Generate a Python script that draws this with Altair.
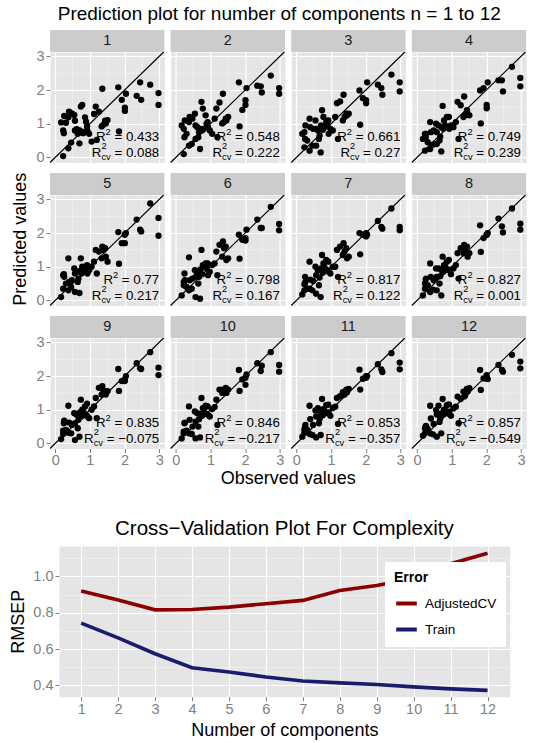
import altair as alt
import pandas as pd

FONT = "Liberation Sans"

# ---------------- data: prediction plots ----------------
PANELS = list(range(1, 13))
OBSERVED = [0.17, 0.23, 0.23, 0.25, 0.26, 0.31, 0.38, 0.38, 0.40, 0.46,
            0.48, 0.55, 0.57, 0.57, 0.62, 0.65, 0.67, 0.70, 0.71, 0.74,
            0.76, 0.78, 0.81, 0.86, 0.89, 0.92, 0.93, 0.98, 1.05, 1.12,
            1.17, 1.20, 1.26, 1.34, 1.36, 1.39, 1.44, 1.46, 1.51, 1.82,
            1.84, 1.92, 2.01, 2.01, 2.04, 2.35, 2.45, 2.48, 2.74, 2.98, 2.98]

PRED_1 = [1.04, 0.04, 0.80, 0.72, 1.23, 1.03, 1.19, 0.27, 1.36, 0.44,
          1.31, 1.26, 1.09, 0.80, 0.84, 0.70, 0.77, 0.42, 0.80, 1.51,
          0.74, 1.56, 0.72, 1.19, 1.06, 0.92, 0.80, 0.70, 0.47, 1.29,
          1.51, 0.52, 1.36, 0.92, 2.04, 0.97, 1.09, 1.01, 1.11, 2.08,
          0.77, 1.71, 1.48, 1.38, 1.89, 1.83, 2.23, 1.71, 2.16, 1.91, 1.56]
PRED_2 = [0.95, 0.10, 0.85, 0.60, 1.10, 0.70, 1.05, 0.35, 1.20, 0.40,
          1.15, 1.30, 0.95, 0.55, 0.90, 0.60, 0.75, 0.25, 0.85, 1.65,
          0.80, 1.45, 0.85, 1.25, 1.00, 1.05, 0.90, 0.80, 0.70, 1.15,
          1.45, 0.60, 1.63, 1.01, 1.89, 1.05, 1.15, 1.10, 1.20, 2.23,
          0.92, 1.41, 1.56, 1.70, 2.06, 2.13, 2.11, 1.93, 2.43, 2.06, 1.89]
PRED_3 = [0.70, 0.30, 0.75, 0.55, 0.95, 0.50, 1.15, 0.20, 0.90, 0.35,
          0.85, 1.10, 0.85, 0.35, 0.80, 0.55, 0.65, 0.15, 0.95, 1.40,
          0.82, 1.20, 0.90, 1.05, 0.95, 1.10, 0.70, 0.85, 0.80, 1.20,
          1.61, 0.55, 1.66, 1.10, 1.86, 1.20, 1.30, 1.25, 1.30, 1.99,
          0.97, 1.76, 1.61, 1.70, 2.23, 2.16, 2.06, 1.86, 2.46, 2.23, 1.96]
PRED_4 = [0.55, 0.20, 0.70, 0.60, 0.70, 0.45, 1.05, 0.25, 0.75, 0.38,
          0.80, 1.00, 0.75, 0.40, 0.95, 0.50, 0.62, 0.18, 0.90, 1.53,
          0.85, 1.10, 0.95, 1.20, 0.90, 1.20, 0.85, 0.95, 0.90, 1.05,
          1.65, 0.55, 1.55, 1.20, 1.81, 1.25, 1.40, 1.31, 1.25, 1.99,
          1.01, 2.06, 1.56, 1.46, 2.23, 2.29, 2.29, 1.96, 2.69, 2.36, 2.11]
PRED_5 = [0.10, 0.35, 0.75, 0.78, 0.70, 0.50, 1.25, 0.30, 0.55, 0.40,
          0.60, 0.95, 0.80, 0.25, 0.85, 0.55, 0.65, 0.22, 0.88, 1.25,
          0.80, 1.00, 0.95, 1.00, 0.85, 1.05, 0.80, 0.90, 1.00, 1.15,
          1.50, 0.80, 1.45, 1.25, 1.60, 1.50, 1.55, 1.30, 1.15, 2.03,
          1.09, 1.70, 1.95, 1.70, 2.00, 2.40, 2.10, 2.05, 2.88, 2.45, 1.92]
PRED_6 = [0.15, 0.45, 0.55, 0.80, 0.60, 0.40, 1.28, 0.30, 0.60, 0.35,
          0.65, 0.90, 0.70, 0.10, 0.80, 0.50, 0.70, 0.05, 0.92, 1.50,
          0.78, 1.05, 1.00, 1.10, 0.95, 1.10, 0.75, 0.85, 1.05, 1.10,
          1.45, 0.75, 1.65, 1.30, 1.75, 1.55, 1.60, 1.20, 1.25, 1.95,
          1.24, 1.80, 1.85, 1.78, 2.10, 2.40, 2.15, 2.15, 2.78, 2.27, 2.08]
PRED_7 = [0.18, 0.30, 0.48, 0.70, 0.55, 0.35, 1.15, 0.35, 0.62, 0.30,
          0.58, 1.00, 0.75, 0.20, 0.90, 0.45, 0.68, 0.10, 0.95, 1.35,
          0.82, 1.10, 0.98, 1.20, 0.90, 1.15, 0.85, 0.80, 1.00, 1.00,
          1.50, 0.70, 1.60, 1.35, 1.70, 1.45, 1.55, 1.25, 1.30, 2.00,
          1.37, 1.95, 2.00, 1.90, 1.95, 2.36, 2.18, 2.13, 2.73, 2.18, 2.08]
PRED_8 = [0.15, 0.35, 0.50, 0.62, 0.65, 0.45, 1.10, 0.25, 0.70, 0.32,
          0.60, 0.95, 0.70, 0.30, 0.95, 0.50, 0.72, 0.15, 0.90, 1.30,
          0.85, 1.05, 1.00, 1.15, 0.92, 1.20, 0.90, 0.78, 0.95, 1.05,
          1.40, 0.65, 1.55, 1.40, 1.65, 1.50, 1.60, 1.30, 1.40, 2.23,
          1.44, 1.85, 1.95, 1.95, 2.00, 2.43, 2.20, 2.02, 2.73, 2.28, 2.10]
PRED_9 = [0.13, 0.28, 0.38, 0.60, 0.68, 0.40, 1.12, 0.32, 0.62, 0.30,
          0.55, 0.90, 0.60, 0.10, 0.85, 0.45, 0.70, 0.20, 0.92, 1.30,
          0.80, 1.00, 0.95, 1.10, 0.85, 1.18, 0.80, 0.75, 1.00, 1.10,
          1.35, 0.75, 1.65, 1.45, 1.70, 1.55, 1.55, 1.45, 1.55, 2.21,
          1.56, 1.85, 1.90, 1.85, 2.00, 2.38, 2.23, 2.21, 2.71, 2.25, 2.03]
PRED_10 = [0.15, 0.30, 0.35, 0.60, 0.62, 0.38, 1.10, 0.30, 0.70, 0.28,
           0.50, 0.95, 0.65, 0.15, 0.90, 0.50, 0.72, 0.18, 0.88, 1.35,
           0.82, 1.05, 0.98, 1.12, 0.88, 1.10, 0.85, 0.80, 1.02, 1.08,
           1.30, 0.55, 1.60, 1.50, 1.60, 1.50, 1.65, 1.50, 1.60, 2.18,
           1.56, 1.90, 1.74, 1.95, 2.05, 2.38, 2.15, 2.31, 2.71, 2.33, 2.13]
PRED_11 = [0.20, 0.32, 0.42, 0.50, 0.55, 0.40, 1.12, 0.28, 0.72, 0.25,
           0.55, 0.98, 0.80, 0.18, 1.05, 0.60, 0.73, 0.25, 0.90, 1.32,
           0.84, 1.02, 0.97, 1.14, 0.90, 1.15, 0.92, 0.82, 1.05, 1.09,
           1.35, 0.58, 1.40, 1.52, 1.45, 1.45, 1.60, 1.52, 1.62, 2.19,
           1.60, 1.92, 2.00, 1.95, 2.00, 2.35, 2.20, 2.12, 2.68, 2.40, 2.20]
PRED_12 = [0.23, 0.30, 0.45, 0.50, 0.52, 0.43, 1.12, 0.30, 0.74, 0.27,
           0.58, 0.99, 0.86, 0.20, 1.12, 0.64, 0.74, 0.30, 0.90, 1.32,
           0.86, 1.00, 0.99, 1.14, 0.89, 1.16, 0.94, 0.82, 1.04, 1.09,
           1.39, 0.60, 1.32, 1.54, 1.39, 1.42, 1.62, 1.54, 1.64, 2.18,
           1.59, 1.93, 2.03, 1.93, 1.91, 2.33, 2.18, 2.13, 2.63, 2.43, 2.23]
PREDICTED = [PRED_1, PRED_2, PRED_3, PRED_4, PRED_5, PRED_6,
             PRED_7, PRED_8, PRED_9, PRED_10, PRED_11, PRED_12]

R2 = ["0.433", "0.548", "0.661", "0.749", "0.77", "0.798",
      "0.817", "0.827", "0.835", "0.846", "0.853", "0.857"]
R2_CV = ["0.088", "0.222", "0.27", "0.239", "0.217", "0.167",
         "0.122", "0.001", "\u22120.075", "\u22120.217", "\u22120.357", "\u22120.549"]

# ---------------- data: cross-validation ----------------
COMPONENTS = list(range(1, 13))
RMSEP_ADJCV = [0.92, 0.87, 0.816, 0.818, 0.831, 0.85, 0.868, 0.923, 0.95, 0.99, 1.07, 1.128]
RMSEP_TRAIN = [0.743, 0.661, 0.574, 0.497, 0.473, 0.446, 0.424, 0.413, 0.404, 0.391, 0.38, 0.372]
SERIES = ["AdjustedCV", "Train"]
SERIES_COLORS = ["#8B0000", "#1B1B6E"]

# ---------------- layout constants ----------------
W, H = 114.4, 110.5
X_DOMAIN = [-0.15, 3.15]
Y_DOMAIN = [-0.15, 3.13]
PXU = W / (X_DOMAIN[1] - X_DOMAIN[0])
FS, FS_S = 13.3, 9.3
TEXT_RIGHT = 3.0
TEXT_Y = [0.62, 0.14]
STRIP = 22
GREY_TXT = "#7F7F7F"
MAJOR = [0, 1, 2, 3]
MINOR = [0.5, 1.5, 2.5]

EM = {c: 0.556 for c in "0123456789"}
EM.update({".": 0.278, "=": 0.584, "\u2212": 0.584, " ": 0.278})


def tw(s, fs):
    return sum(EM[c] for c in s) * fs


xs = alt.Scale(domain=X_DOMAIN, nice=False, zero=False)
ys = alt.Scale(domain=Y_DOMAIN, nice=False, zero=False)


def make_panel(idx):
    p = PANELS[idx]
    prow, pcol = idx // 4, idx % 4
    preds = PREDICTED[idx]
    rows = [{"kind": "pt", "obs": o, "pred": v} for o, v in zip(OBSERVED, preds)]
    rows += [{"kind": "mg", "g": g} for g in MINOR]
    rest1 = "= " + R2[idx]
    rest2 = "= " + R2_CV[idx]
    rows.append({
        "kind": "lab", "label": str(p), "rest1": rest1, "rest2": rest2,
        "xr": TEXT_RIGHT,
        "xR1": TEXT_RIGHT - (tw(rest1, FS) + 0.278 * FS + 0.556 * FS_S) / PXU,
        "xR2": TEXT_RIGHT - (tw(rest2, FS) + 0.278 * FS + 1.0 * FS_S) / PXU,
        "y1": TEXT_Y[0], "y2": TEXT_Y[1],
        "lo": X_DOMAIN[0], "hi": Y_DOMAIN[1],
    })
    d = pd.DataFrame(rows)

    if prow == 2:
        if pcol == 1:
            x_axis = alt.Axis(values=MAJOR, labelPadding=1, title="Observed values",
                              titleX=W + 2.8, titlePadding=2)
        else:
            x_axis = alt.Axis(values=MAJOR, labelPadding=1, title=None)
    else:
        x_axis = alt.Axis(values=MAJOR, labels=False, ticks=False, title=None)
    if pcol == 0:
        y_axis = alt.Axis(values=MAJOR, title="Predicted values", titleY=H / 2 - 11.5,
                          titlePadding=6,
                          titleColor="black" if prow == 1 else "transparent")
    else:
        y_axis = alt.Axis(values=MAJOR, labels=False, ticks=False, title=None)

    base = alt.Chart(d)
    is_pt = alt.datum.kind == "pt"
    is_lab = alt.datum.kind == "lab"
    is_mg = alt.datum.kind == "mg"

    def X(f):
        return alt.X(f, scale=xs, axis=x_axis)

    def Y(f):
        return alt.Y(f, scale=ys, axis=y_axis)

    vminor = base.mark_rule(color="#F2F2F2", strokeWidth=0.7).encode(
        x=X("g:Q")).transform_filter(is_mg)
    hminor = base.mark_rule(color="#F2F2F2", strokeWidth=0.7).encode(
        y=Y("g:Q")).transform_filter(is_mg)

    points = base.mark_circle(size=40, color="black", opacity=1).encode(
        x=X("obs:Q"), y=Y("pred:Q"),
    ).transform_filter(is_pt)

    diag = base.mark_rule(color="black", strokeWidth=1.1).encode(
        x=X("lo:Q"), x2="hi:Q", y=Y("lo:Q"), y2="hi:Q",
    ).transform_filter(is_lab)

    strip_bg = base.mark_rect(color="#CCCCCC").encode(
        x=alt.value(0), x2=alt.value(W), y=alt.value(-STRIP), y2=alt.value(0),
    ).transform_filter(is_lab)

    strip_txt = base.mark_text(fontSize=14.5, color="#1A1A1A", baseline="middle", align="center").encode(
        x=alt.value(W / 2), y=alt.value(-STRIP / 2), text="label:N",
    ).transform_filter(is_lab)

    def txt(fx, fy, text, align, fs, dy=0):
        return base.mark_text(fontSize=fs, color="black", baseline="middle", align=align, dy=dy).encode(
            x=X(f"{fx}:Q"), y=Y(f"{fy}:Q"), text=text,
        ).transform_filter(is_lab)

    layers = [vminor, hminor, points, diag, strip_bg, strip_txt,
              txt("xr", "y1", "rest1:N", "right", FS),
              txt("xR1", "y1", alt.value("R"), "right", FS),
              txt("xR1", "y1", alt.value("2"), "left", FS_S, dy=-5),
              txt("xr", "y2", "rest2:N", "right", FS),
              txt("xR2", "y2", alt.value("R"), "right", FS),
              txt("xR2", "y2", alt.value("2"), "left", FS_S, dy=-6.5),
              txt("xR2", "y2", alt.value("cv"), "left", FS_S, dy=4)]
    return alt.layer(*layers).properties(width=W, height=H)


grid_rows = [alt.hconcat(*[make_panel(r * 4 + c) for c in range(4)], spacing=5.6, bounds="flush")
             for r in range(3)]
top = alt.vconcat(*grid_rows, spacing=6).properties(title=alt.Title(
    "Prediction plot for number of components n = 1 to 12",
    fontSize=19, fontWeight="normal", color="black", anchor="middle", dx=10, offset=5))

# ---------------- bottom chart ----------------
cv_rows = []
for s, vals in zip(SERIES, [RMSEP_ADJCV, RMSEP_TRAIN]):
    for c, v in zip(COMPONENTS, vals):
        cv_rows.append({"component": c, "Error": s, "rmsep": v})
cv_df = pd.DataFrame(cv_rows)

BH = 150.7
major_y = "round(datum.value * 10) % 2 === 0"
bottom = alt.Chart(cv_df).mark_line(strokeWidth=3.6).encode(
    x=alt.X("component:Q", scale=alt.Scale(domain=[0.4, 12.6], nice=False, zero=False),
            axis=alt.Axis(values=COMPONENTS, titlePadding=5),
            title="Number of components"),
    y=alt.Y("rmsep:Q", scale=alt.Scale(domain=[0.337, 1.168], nice=False, zero=False),
            axis=alt.Axis(values=[0.4, 0.5, 0.6, 0.7, 0.8, 0.9, 1.0, 1.1],
                          labelExpr=f"{major_y} ? format(datum.value, '.1f') : ''",
                          gridColor={"condition": {"test": f"!({major_y})", "value": "#F2F2F2"}, "value": "#FFFFFF"},
                          gridWidth={"condition": {"test": f"!({major_y})", "value": 0.7}, "value": 1.2},
                          tickOpacity={"condition": {"test": f"!({major_y})", "value": 0}, "value": 1},
                          titlePadding=5),
            title="RMSEP"),
    color=alt.Color("Error:N", scale=alt.Scale(domain=SERIES, range=SERIES_COLORS),
                    legend=alt.Legend(title="Error", orient="none", legendX=335, legendY=510,
                                      fillColor="white", padding=9, titleFontSize=14,
                                      titleFontWeight="bold", titleColor="black",
                                      labelFontSize=13.5, labelColor="black",
                                      symbolType="stroke", symbolStrokeWidth=4, symbolSize=425,
                                      rowPadding=5, titlePadding=6, labelOffset=6)),
).properties(width=450.7, height=BH, title=alt.Title(
    "Cross\u2212Validation Plot For Complexity", fontSize=20.5, fontWeight="normal",
    color="black", anchor="middle", offset=7))

# invisible spacer that shifts the lower panel relative to the facet grid
spacer = alt.Chart(pd.DataFrame({"s": [0]})).mark_point(opacity=0).properties(
    width=3, height=BH, view=alt.ViewBackground(fill="transparent", stroke="transparent"))
lower = alt.hconcat(spacer, bottom, spacing=6, bounds="flush")

chart = alt.concat(top, lower, columns=1, spacing=30).configure(
    font=FONT, padding={"left": 9, "top": 4, "right": 0, "bottom": 0}
).configure_view(fill="#E5E5E5", stroke="transparent").configure_axis(
    domain=False, labelColor=GREY_TXT, tickColor=GREY_TXT, labelFontSize=14.5,
    titleFontSize=18, titleFontWeight="normal", titleColor="black", tickSize=4,
    labelPadding=2, labelFont=FONT, titleFont=FONT, gridColor="#FFFFFF", gridWidth=1.2,
).configure_title(font=FONT)

chart.save("out.html", embed_options={"renderer": "svg", "actions": False})
